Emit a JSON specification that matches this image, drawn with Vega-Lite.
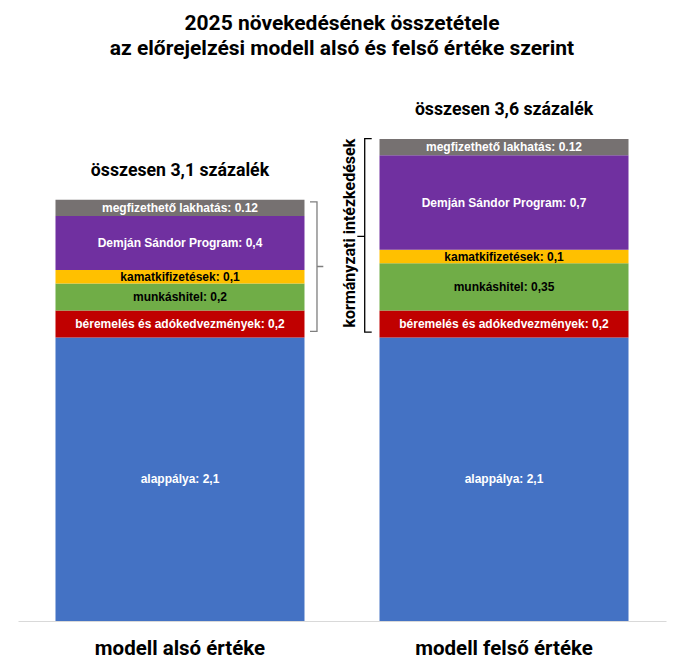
{
  "$schema": "https://vega.github.io/schema/vega-lite/v6.json",
  "width": 648,
  "height": 540,
  "autosize": {"type": "none"},
  "padding": {"left": 18, "top": 81, "right": 12, "bottom": 46},
  "background": "white",
  "config": {"view": {"stroke": null}, "font": "Roboto"},
  "title": {
    "text": ["2025 növekedésének összetétele", "az előrejelzési modell alsó és felső értéke szerint"],
    "font": "Roboto",
    "fontSize": 21,
    "fontWeight": "bold",
    "color": "#000000",
    "anchor": "middle",
    "lineHeight": 25,
    "offset": 22
  },
  "datasets": {
    "main": [
      {"model": "modell alsó értéke", "segment": "alappálya", "order": 1, "value": 2.1, "label": "alappálya: 2,1"},
      {"model": "modell alsó értéke", "segment": "béremelés és adókedvezmények", "order": 2, "value": 0.2, "label": "béremelés és adókedvezmények: 0,2"},
      {"model": "modell alsó értéke", "segment": "munkáshitel", "order": 3, "value": 0.2, "label": "munkáshitel: 0,2"},
      {"model": "modell alsó értéke", "segment": "kamatkifizetések", "order": 4, "value": 0.1, "label": "kamatkifizetések: 0,1"},
      {"model": "modell alsó értéke", "segment": "Demján Sándor Program", "order": 5, "value": 0.4, "label": "Demján Sándor Program: 0,4"},
      {"model": "modell alsó értéke", "segment": "megfizethető lakhatás", "order": 6, "value": 0.12, "label": "megfizethető lakhatás: 0.12"},
      {"model": "modell felső értéke", "segment": "alappálya", "order": 1, "value": 2.1, "label": "alappálya: 2,1"},
      {"model": "modell felső értéke", "segment": "béremelés és adókedvezmények", "order": 2, "value": 0.2, "label": "béremelés és adókedvezmények: 0,2"},
      {"model": "modell felső értéke", "segment": "munkáshitel", "order": 3, "value": 0.35, "label": "munkáshitel: 0,35"},
      {"model": "modell felső értéke", "segment": "kamatkifizetések", "order": 4, "value": 0.1, "label": "kamatkifizetések: 0,1"},
      {"model": "modell felső értéke", "segment": "Demján Sándor Program", "order": 5, "value": 0.7, "label": "Demján Sándor Program: 0,7"},
      {"model": "modell felső értéke", "segment": "megfizethető lakhatás", "order": 6, "value": 0.12, "label": "megfizethető lakhatás: 0.12"}
    ],
    "totals": [
      {"model": "modell alsó értéke", "text": "összesen 3,1 százalék"},
      {"model": "modell felső értéke", "text": "összesen 3,6 százalék"}
    ],
    "brackets": [
      {"br": "bal", "pt": 1, "xq": 0.9012, "yv": 3.104},
      {"br": "bal", "pt": 2, "xq": 0.9228, "yv": 3.104},
      {"br": "bal", "pt": 3, "xq": 0.9228, "yv": 2.626},
      {"br": "bal", "pt": 4, "xq": 0.9423, "yv": 2.626},
      {"br": "bal", "pt": 5, "xq": 0.9228, "yv": 2.626},
      {"br": "bal", "pt": 6, "xq": 0.9228, "yv": 2.145},
      {"br": "bal", "pt": 7, "xq": 0.9012, "yv": 2.145},
      {"br": "jobb", "pt": 1, "xq": 1.0917, "yv": 3.573},
      {"br": "jobb", "pt": 2, "xq": 1.0701, "yv": 3.573},
      {"br": "jobb", "pt": 3, "xq": 1.0701, "yv": 2.849},
      {"br": "jobb", "pt": 4, "xq": 1.0472, "yv": 2.849},
      {"br": "jobb", "pt": 5, "xq": 1.0701, "yv": 2.849},
      {"br": "jobb", "pt": 6, "xq": 1.0701, "yv": 2.14},
      {"br": "jobb", "pt": 7, "xq": 1.0917, "yv": 2.14}
    ],
    "notes": [
      {"xq": 1.0247, "yv": 2.873, "text": "kormányzati intézkedések"}
    ]
  },
  "layer": [
    {
      "data": {"name": "main"},
      "layer": [
        {
          "mark": {"type": "bar"},
          "encoding": {
            "x": {
              "field": "model", "type": "nominal", "sort": null,
              "scale": {"paddingInner": 0.2315, "paddingOuter": 0.1157},
              "axis": {
                "title": null, "labelAngle": 0, "ticks": false,
                "domainColor": "#d9d9d9", "domainWidth": 1,
                "labelFont": "Roboto", "labelFontSize": 20.5, "labelFontWeight": "bold",
                "labelColor": "#000000", "labelPadding": 17
              }
            },
            "y": {
              "field": "value", "type": "quantitative", "stack": "zero",
              "scale": {"domain": [0, 4], "nice": false}, "axis": null
            },
            "order": {"field": "order", "type": "quantitative"},
            "color": {
              "field": "segment", "type": "nominal", "legend": null,
              "scale": {
                "domain": ["alappálya", "béremelés és adókedvezmények", "munkáshitel", "kamatkifizetések", "Demján Sándor Program", "megfizethető lakhatás"],
                "range": ["#4472C4", "#C00000", "#70AD47", "#FFC000", "#7030A0", "#767171"]
              }
            }
          }
        },
        {
          "transform": [
            {"stack": "value", "groupby": ["model"], "sort": [{"field": "order", "order": "ascending"}], "as": ["y0", "y1"]},
            {"calculate": "(datum.y0 + datum.y1) / 2", "as": "mid"}
          ],
          "mark": {"type": "text", "font": "Liberation Sans", "fontWeight": "bold", "fontSize": 12, "baseline": "middle", "align": "center"},
          "encoding": {
            "x": {"field": "model", "type": "nominal", "sort": null},
            "y": {"field": "mid", "type": "quantitative", "scale": {"domain": [0, 4], "nice": false}},
            "text": {"field": "label"},
            "color": {
              "condition": {"test": "datum.segment === 'munkáshitel' || datum.segment === 'kamatkifizetések'", "value": "#000000"},
              "value": "#ffffff"
            }
          }
        },
        {
          "transform": [
            {"aggregate": [{"op": "sum", "field": "value", "as": "total"}], "groupby": ["model"]},
            {"lookup": "model", "from": {"data": {"name": "totals"}, "key": "model", "fields": ["text"]}}
          ],
          "mark": {"type": "text", "font": "Roboto", "fontWeight": "bold", "fontSize": 17.7, "baseline": "middle", "align": "center", "dy": -29, "color": "#000000"},
          "encoding": {
            "x": {"field": "model", "type": "nominal", "sort": null},
            "y": {"field": "total", "type": "quantitative", "scale": {"domain": [0, 4], "nice": false}},
            "text": {"field": "text"}
          }
        }
      ]
    },
    {
      "layer": [
        {
          "data": {"name": "brackets"},
          "mark": {"type": "line", "strokeWidth": 1.3},
          "encoding": {
            "x": {"field": "xq", "type": "quantitative", "scale": {"domain": [0, 2], "nice": false, "zero": false}, "axis": null},
            "y": {"field": "yv", "type": "quantitative", "scale": {"domain": [0, 4], "nice": false}},
            "order": {"field": "pt", "type": "quantitative"},
            "color": {"field": "br", "type": "nominal", "legend": null, "scale": {"domain": ["bal", "jobb"], "range": ["#7f7f7f", "#000000"]}}
          }
        },
        {
          "data": {"name": "notes"},
          "mark": {"type": "text", "angle": 270, "font": "Roboto", "fontWeight": "bold", "fontSize": 16, "baseline": "middle", "align": "center", "color": "#000000"},
          "encoding": {
            "x": {"field": "xq", "type": "quantitative", "scale": {"domain": [0, 2], "nice": false, "zero": false}, "axis": null},
            "y": {"field": "yv", "type": "quantitative", "scale": {"domain": [0, 4], "nice": false}},
            "text": {"field": "text"}
          }
        }
      ]
    }
  ],
  "resolve": {"scale": {"x": "independent", "color": "independent"}}
}
